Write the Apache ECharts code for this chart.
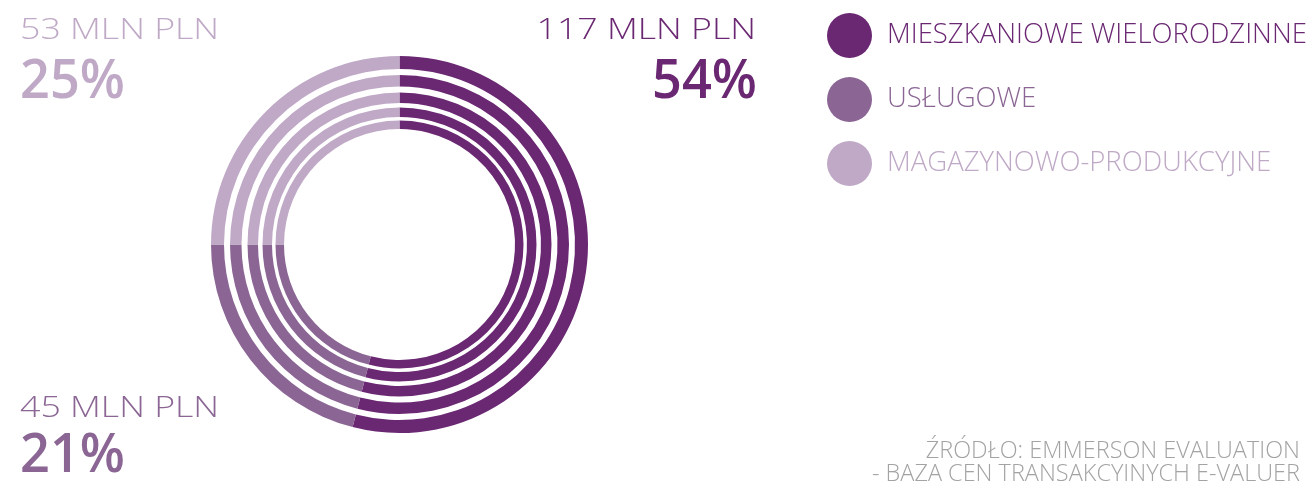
<!DOCTYPE html>
<html><head><meta charset="utf-8">
<script src="https://cdn.jsdelivr.net/npm/echarts@6/dist/echarts.min.js"></script>
<style>html,body{margin:0;padding:0;background:#fff}#c{width:1310px;height:484px}</style>
</head><body><div id="c"></div>
<script>
const categories = ['MIESZKANIOWE WIELORODZINNE', 'USŁUGOWE', 'MAGAZYNOWO-PRODUKCYJNE'];
const valuesMln = [117, 45, 53];
const percents = [54, 21, 25];
const sourceLines = ['ŹRÓDŁO: EMMERSON EVALUATION', '- BAZA CEN TRANSAKCYINYCH E-VALUER'];

const colors = ['#6a2772', '#8b6694', '#bfa9c6'];
const FONT = 'Open Sans';
const rings = [[175.5, 188.5], [158, 169.5], [141.5, 152], [127.5, 137], [115.5, 124]];
const center = [399.5, 244.5];

const pieData = categories.map((c, i) => ({ name: c, value: percents[i], itemStyle: { color: colors[i] } }));
const series = rings.map(r => ({
  type: 'pie', radius: r, center: center, startAngle: 90, clockwise: true,
  silent: true, animation: false, label: { show: false }, labelLine: { show: false },
  itemStyle: { borderWidth: 0 }, data: pieData
}));

const labelPos = [
  { x: 756, y: 15, py: 55, align: 'right' },
  { x: 20, y: 393, py: 429, align: 'left' },
  { x: 20, y: 15, py: 55, align: 'left' }
];
const graphics = [];
categories.forEach((c, i) => {
  const p = labelPos[i];
  graphics.push({ type: 'text', x: p.x, y: p.y, scaleX: 1.19, style: {
    text: valuesMln[i] + ' MLN PLN', fill: colors[i], font: '300 30px "' + FONT + '"', align: p.align, verticalAlign: 'top' } });
  graphics.push({ type: 'text', x: p.x + (p.align === 'right' ? 1 : 0), y: p.py, scaleX: 0.95, style: {
    text: percents[i] + '%', fill: colors[i], font: '600 55px "' + FONT + '"', align: p.align, verticalAlign: 'top' } });
});
sourceLines.forEach((t, i) => {
  graphics.push({ type: 'text', x: 1300, y: 440 + i * 23, scaleX: 1.02, style: {
    text: t, fill: '#a3a3a3', font: '300 23px "' + FONT + '"', align: 'right', verticalAlign: 'top' } });
});

const chart = echarts.init(document.getElementById('c'), null, { renderer: 'canvas' });
chart.setOption({
  animation: false,
  legend: {
    orient: 'vertical', left: 822, top: 8, icon: 'circle', itemWidth: 45, itemHeight: 45, itemGap: 19,
    selectedMode: false,
    data: categories.map((c, i) => ({ name: c, textStyle: { color: colors[i] } })),
    textStyle: { fontFamily: FONT, fontSize: 27.5, fontWeight: 300, padding: [0, 0, 0, 10] }
  },
  graphic: graphics,
  series: series
});
</script></body></html>
